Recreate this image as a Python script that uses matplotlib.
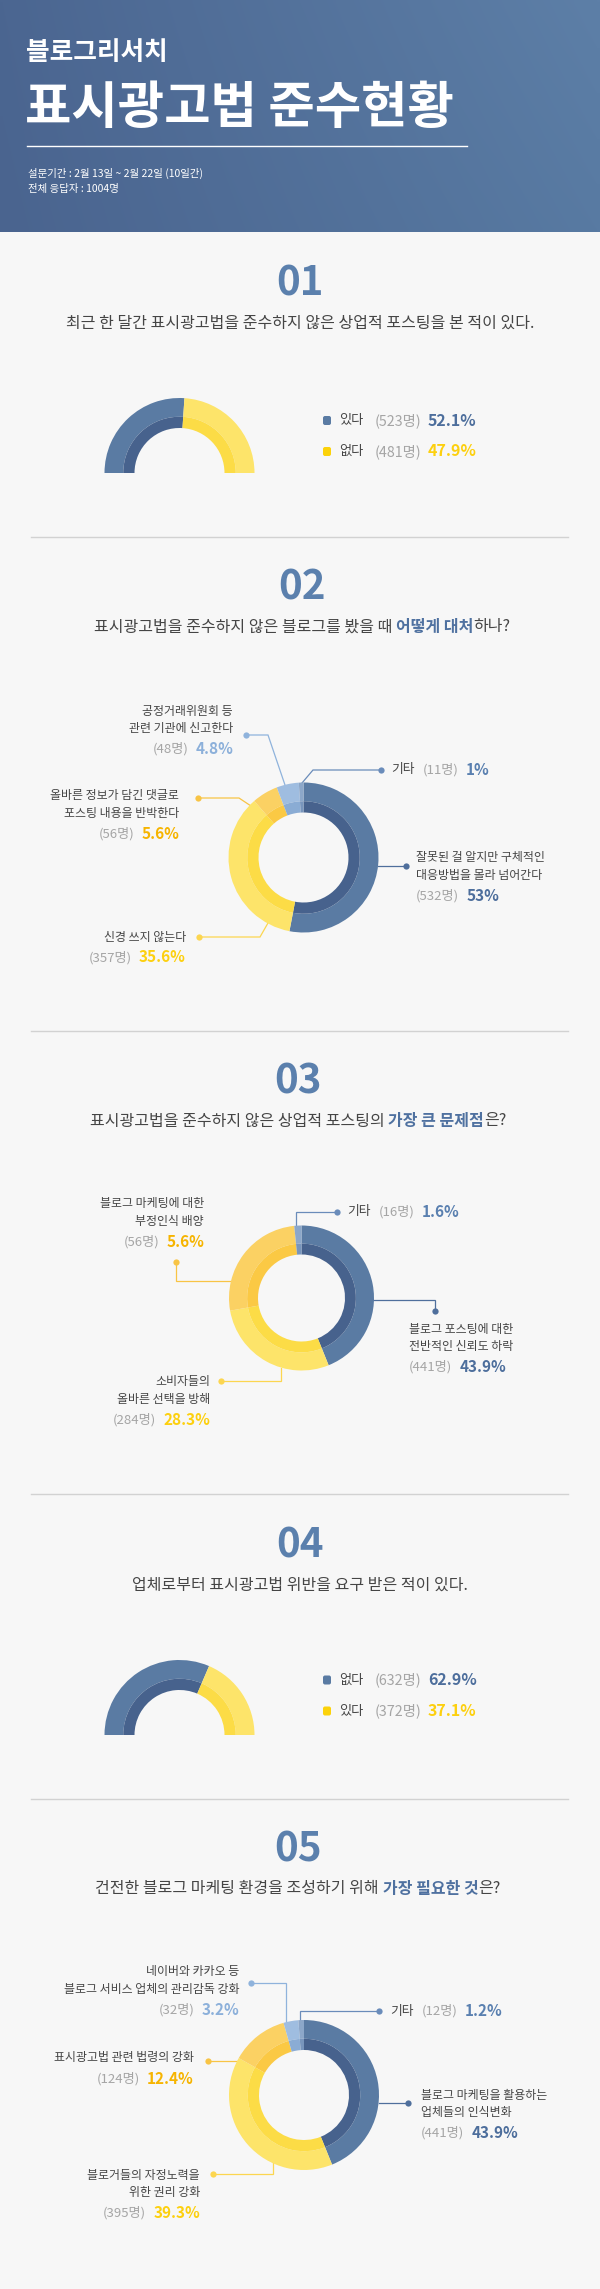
import numpy as np
import matplotlib
matplotlib.use('Agg')
import matplotlib.pyplot as plt
from matplotlib.patches import FancyBboxPatch
from matplotlib.colors import to_rgb

plt.rcParams['font.family'] = ['Noto Sans CJK KR', 'DejaVu Sans']

W, H = 600, 2289

# ------------------------------------------------ data
title_small = '블로그리서치'
title_big = '표시광고법 준수현황'
survey_info = ['설문기간 : 2월 13일 ~ 2월 22일 (10일간)', '전체 응답자 : 1004명']

# question text: (plain, highlighted, plain)
q1_title = ('최근 한 달간 표시광고법을 준수하지 않은 상업적 포스팅을 본 적이 있다.', '', '')
q2_title = ('표시광고법을 준수하지 않은 블로그를 봤을 때', '어떻게 대처', '하나?')
q3_title = ('표시광고법을 준수하지 않은 상업적 포스팅의', '가장 큰 문제점', '은?')
q4_title = ('업체로부터 표시광고법 위반을 요구 받은 적이 있다.', '', '')
q5_title = ('건전한 블로그 마케팅 환경을 조성하기 위해', '가장 필요한 것', '은?')

q1_labels = ['있다', '없다']
q1_counts = [523, 481]
q1_pct = [52.1, 47.9]

q2_labels = ['잘못된 걸 알지만 구체적인\n대응방법을 몰라 넘어간다', '신경 쓰지 않는다',
             '올바른 정보가 담긴 댓글로\n포스팅 내용을 반박한다', '공정거래위원회 등\n관련 기관에 신고한다', '기타']
q2_counts = [532, 357, 56, 48, 11]
q2_pct = [53, 35.6, 5.6, 4.8, 1]

q3_labels = ['블로그 포스팅에 대한\n전반적인 신뢰도 하락', '소비자들의\n올바른 선택을 방해',
             '블로그 마케팅에 대한\n부정인식 배양', '기타']
q3_counts = [441, 284, 56, 16]
q3_pct = [43.9, 28.3, 5.6, 1.6]
# slice sizes as drawn in the original (third slice is drawn ~26%, not 5.6%)
q3_slice = [43.9, 28.3, 26.2, 1.6]

q4_labels = ['없다', '있다']
q4_counts = [632, 372]
q4_pct = [62.9, 37.1]

q5_labels = ['블로그 마케팅을 활용하는\n업체들의 인식변화', '블로거들의 자정노력을\n위한 권리 강화',
             '표시광고법 관련 법령의 강화', '네이버와 카카오 등\n블로그 서비스 업체의 관리감독 강화', '기타']
q5_counts = [441, 395, 124, 32, 12]
q5_pct = [43.9, 39.3, 12.4, 3.2, 1.2]

# ------------------------------------------------ styles
BG = '#f7f7f7'
TXT = '#454545'
GRAY = '#a5a5a5'
NUM_C = '#5b80ad'
HI_C = '#4f71a0'
RING = {'blue': ('#5a7ba3', '#47628d'), 'yellow': ('#fde46a', '#fcdc46'),
        'amber': ('#fbd163', '#fbc944'), 'lblue': ('#9fbde0', '#8aacd4'),
        'etc': ('#8ca7c9', '#7895bc')}
PCT_C = {'blue': '#4d6e9c', 'yellow': '#fdd00f', 'amber': '#f6b400',
         'lblue': '#8cb0da', 'etc': '#5a80b0'}
LINE_C = {'blue': '#4f6f9c', 'yellow': '#fcd650', 'amber': '#f8c445',
          'lblue': '#8fb3dc', 'etc': '#6a8cba'}

fig = plt.figure(figsize=(W / 100, H / 100), dpi=100, facecolor=BG)
ax = fig.add_axes([0, 0, 1, 1])
ax.set_facecolor(BG)
rend = fig.canvas.get_renderer()

# header gradient
gy, gx = np.mgrid[0:1:60j, 0:1:120j]
gx, gy = gx[..., None], gy[..., None]
c_tl, c_tr, c_bl, c_br = [np.array(to_rgb(c)) for c in ['#4b6691', '#5d7fa7', '#4a648f', '#587aa2']]
img = c_tl * (1 - gx) * (1 - gy) + c_tr * gx * (1 - gy) + c_bl * (1 - gx) * gy + c_br * gx * gy
ax.imshow(img, extent=(0, W, 232, 0), aspect='auto', interpolation='bilinear', zorder=0)
ax.set_xlim(0, W)
ax.set_ylim(H, 0)
ax.axis('off')

ax.text(26, 52, title_small, color='white', fontsize=18.5, fontweight='bold', va='center')
ax.text(25, 108, title_big, color='white', fontsize=36.3, fontweight='bold', va='center')
ax.plot([27, 467], [146, 146], color='white', lw=1)
for i, s in enumerate(survey_info):
    ax.text(28, 173 + i * 16, s, color='white', fontsize=7.5, va='center')


def row(x, y, parts, ha='left'):
    # parts: (text, color, size, weight, space before)
    ts, ws = [], []
    for s, c, fs, fw, sp in parts:
        t = ax.text(0, y, s, color=c, fontsize=fs, fontweight=fw, ha='left', va='center')
        ts.append(t)
        ws.append(t.get_window_extent(rend).width)
    total = sum(ws) + sum(p[4] for p in parts[1:])
    cur = {'left': x, 'right': x - total, 'center': x - total / 2}[ha]
    for i, (t, w) in enumerate(zip(ts, ws)):
        if i:
            cur += parts[i][4]
        t.set_x(cur)
        cur += w


def header(num, title, x, y):
    ax.text(x, y, num, color=NUM_C, fontsize=29, fontweight='bold', ha='center', va='center')
    a, b, c = title
    parts = [(a, TXT, 11.5, 'normal', 0)]
    if b:
        parts += [(b, HI_C, 11.5, 'bold', 4), (c, TXT, 11.5, 'normal', 0)]
    row(x, y + 39, parts, ha='center')


def sep(y):
    ax.plot([31, 568], [y, y], color='#d2d2d2', lw=1)


def donut(cx, cy, r, values, kinds, start=90, cut=None, inner=0.6, split=0.75):
    top = cy - r
    bottom = cy + r if cut is None else cut
    a = fig.add_axes([(cx - r) / W, 1 - bottom / H, 2 * r / W, (bottom - top) / H])
    outer_c = [RING[k][0] if k else 'none' for k in kinds]
    inner_c = [RING[k][1] if k else 'none' for k in kinds]
    a.pie(values, colors=outer_c, radius=1, startangle=start, counterclock=False,
          wedgeprops=dict(width=1 - split, linewidth=0))
    a.pie(values, colors=inner_c, radius=split, startangle=start, counterclock=False,
          wedgeprops=dict(width=split - inner, linewidth=0))
    a.set_xlim(-1, 1)
    a.set_ylim((cy - bottom) / r, 1)
    a.set_aspect('auto')
    a.axis('off')


def legend(x, y, labels, counts, pct, kinds):
    for i, (lb, n, p, k) in enumerate(zip(labels, counts, pct, kinds)):
        yy = y + i * 31
        ax.add_patch(FancyBboxPatch((x - 4, yy - 4.5), 8, 9, boxstyle='round,pad=0,rounding_size=2',
                                    fc=RING[k][0] if k == 'blue' else '#fcd20a', ec='none'))
        row(x + 12, yy, [(lb, TXT, 9.5, 'medium', 0), (f'({n}명)', GRAY, 10.3, 'normal', 11),
                         (f'{p:g}%', PCT_C[k], 11.5, 'bold', 7)])


def label(x, y, ha, text, n, p, kind, path):
    lines = text.split('\n')
    cnt = [(f'({n}명)', GRAY, 9.5, 'normal', 0), (f'{p:g}%', PCT_C[kind], 11, 'bold', 7)]
    if text == '기타':
        row(x, y, [(text, TXT, 9.2, 'medium', 0)] + [(s, c, f, w, 8) for s, c, f, w, _ in cnt[:1]] + cnt[1:], ha)
    else:
        for i, ln in enumerate(lines):
            ax.text(x, y + i * 17.5, ln, ha=ha, va='center', fontsize=8.6, color=TXT, fontweight='medium')
        row(x, y + (len(lines) - 1) * 17.5 + 20.5, cnt, ha)
    px, py = zip(*path)
    ax.plot(px, py, color=LINE_C[kind], lw=0.9, solid_joinstyle='miter')
    ax.plot(px[0], py[0], 'o', ms=4.5, color=LINE_C[kind], mec='none')


# ------------------------------------------------ 01
header('01', q1_title, 300, 284)
q1_kinds = ['blue', 'yellow']
donut(179.5, 473, 75, q1_pct + [100], q1_kinds + [None], start=180, cut=468)
legend(327, 420.5, q1_labels, q1_counts, q1_pct, q1_kinds)
sep(537)

# ------------------------------------------------ 02
header('02', q2_title, 302, 588)
q2_kinds = ['blue', 'yellow', 'amber', 'lblue', 'etc']
donut(303.5, 857.5, 75, q2_pct, q2_kinds)
q2_pos = [(416, 858, 'left', [(406, 866), (378, 866)]),
          (186, 937, 'right', [(199, 937), (260, 937), (268, 923)]),
          (179, 796, 'right', [(198, 798), (239, 798), (251, 806)]),
          (233, 711, 'right', [(246, 735), (268, 735), (285, 785)]),
          (391, 770, 'left', [(381, 770), (313, 770), (302, 783)])]
for (x, y, ha, path), t, n, p, k in zip(q2_pos, q2_labels, q2_counts, q2_pct, q2_kinds):
    label(x, y, ha, t, n, p, k, path)
sep(1031)

# ------------------------------------------------ 03
header('03', q3_title, 298, 1082)
q3_kinds = ['blue', 'yellow', 'amber', 'etc']
donut(301.5, 1298, 72.5, q3_slice, q3_kinds)
q3_pos = [(409, 1329, 'left', [(435, 1311), (435, 1300), (373, 1300)]),
          (210, 1382, 'right', [(221, 1381), (281, 1381), (281, 1368)]),
          (204, 1204, 'right', [(176, 1262), (176, 1281), (231, 1281)]),
          (347, 1212, 'left', [(337, 1212), (296, 1212), (296, 1227)])]
for (x, y, ha, path), t, n, p, k in zip(q3_pos, q3_labels, q3_counts, q3_pct, q3_kinds):
    label(x, y, ha, t, n, p, k, path)
sep(1494)

# ------------------------------------------------ 04
header('04', q4_title, 300, 1546)
q4_kinds = ['blue', 'yellow']
donut(179.5, 1735, 75, q4_pct + [100], q4_kinds + [None], start=180, cut=1730)
legend(327, 1680, q4_labels, q4_counts, q4_pct, q4_kinds)
sep(1799)

# ------------------------------------------------ 05
header('05', q5_title, 298, 1850)
q5_kinds = ['blue', 'yellow', 'amber', 'lblue', 'etc']
donut(304, 2095, 75, q5_pct, q5_kinds)
q5_pos = [(421, 2095, 'left', [(408, 2103), (379, 2103)]),
          (200, 2175, 'right', [(213, 2174), (273, 2174), (273, 2160)]),
          (194, 2058, 'right', [(208, 2061), (237, 2061)]),
          (239, 1972, 'right', [(251, 1983), (286, 1983), (286, 2024)]),
          (390, 2011, 'left', [(379, 2011), (300, 2011), (300, 2021)])]
for (x, y, ha, path), t, n, p, k in zip(q5_pos, q5_labels, q5_counts, q5_pct, q5_kinds):
    label(x, y, ha, t, n, p, k, path)

fig.savefig('out.png', dpi=100, facecolor=BG)
